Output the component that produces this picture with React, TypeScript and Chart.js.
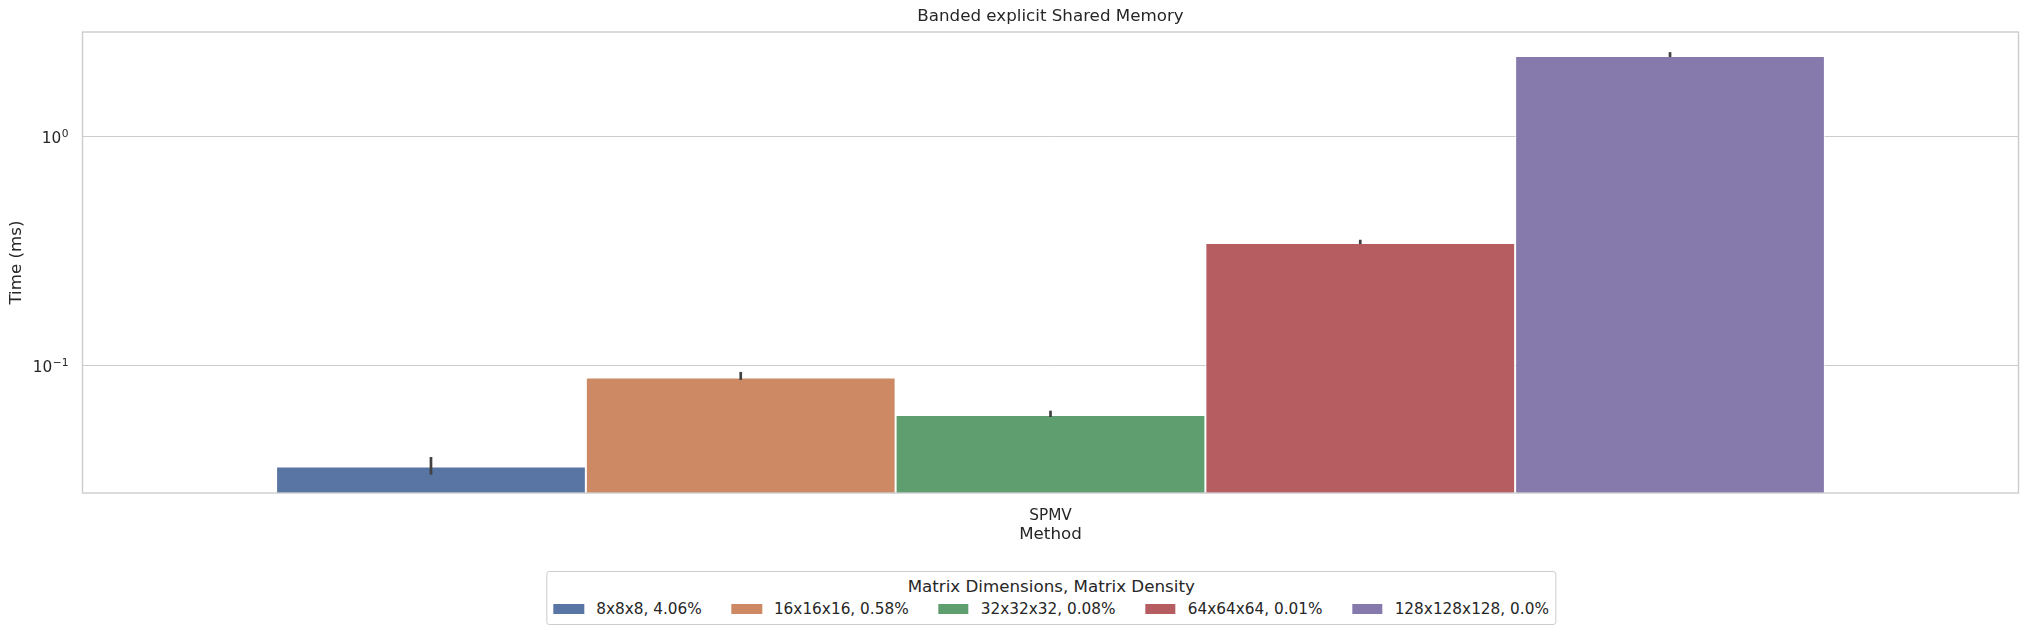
import React, { useEffect, useRef } from 'react';
import { Chart, registerables } from 'chart.js';

Chart.register(...registerables);

const chartTitle = 'Banded explicit Shared Memory';
const categories = ['SPMV'];
const seriesLabels = [
  '8x8x8, 4.06%',
  '16x16x16, 0.58%',
  '32x32x32, 0.08%',
  '64x64x64, 0.01%',
  '128x128x128, 0.0%',
];
const meanTimes = [0.0363, 0.0887, 0.0608, 0.342, 2.232];
const errLow = [0.0334, 0.0865, 0.0596, 0.338, 2.21];
const errHigh = [0.0399, 0.0937, 0.0635, 0.353, 2.32];
const seriesColors = ['#5975a4', '#cc8963', '#5f9e6e', '#b55d60', '#857aab'];
const yTickValues = [0.1, 1];
const yTickExponents = ['\u22121', '0'];
const yMin = 0.0278;
const yMax = 2.84;

const TEXT = '#262626';
const FONT = "'DejaVu Sans', sans-serif";

const overlayPlugin = {
  id: 'overlay',
  afterDatasetsDraw(chart: any) {
    const { ctx, chartArea: a } = chart;
    const y = chart.scales.y;
    ctx.save();
    ctx.strokeStyle = '#cccccc';
    ctx.lineWidth = 1.4;
    ctx.strokeRect(a.left, a.top, a.right - a.left, a.bottom - a.top);
    ctx.strokeStyle = '#424242';
    ctx.lineWidth = 2.7;
    ctx.lineCap = 'butt';
    chart.data.datasets.forEach((_ds: any, i: number) => {
      const meta = chart.getDatasetMeta(i);
      meta.data.forEach((bar: any) => {
        ctx.beginPath();
        ctx.moveTo(bar.x, y.getPixelForValue(errLow[i]));
        ctx.lineTo(bar.x, y.getPixelForValue(errHigh[i]));
        ctx.stroke();
      });
    });
    ctx.restore();
  },
  afterDraw(chart: any) {
    const { ctx, chartArea: a } = chart;
    const y = chart.scales.y;
    ctx.save();
    ctx.fillStyle = TEXT;
    // title centred over the plot area
    ctx.font = `16.7px ${FONT}`;
    ctx.textAlign = 'center';
    ctx.textBaseline = 'middle';
    ctx.fillText(chartTitle, (a.left + a.right) / 2, 17);
    // y tick labels in 10^n form
    const right = a.left - 14;
    yTickValues.forEach((v, i) => {
      const py = y.getPixelForValue(v);
      ctx.textBaseline = 'alphabetic';
      ctx.textAlign = 'right';
      ctx.font = `10.7px ${FONT}`;
      const supW = ctx.measureText(yTickExponents[i]).width;
      ctx.fillText(yTickExponents[i], right, py + 1);
      ctx.font = `15.3px ${FONT}`;
      ctx.fillText('10', right - supW - 0.5, py + 6.5);
    });
    ctx.restore();
  },
};

export default function App() {
  const canvasRef = useRef<HTMLCanvasElement | null>(null);

  useEffect(() => {
    if (!canvasRef.current) return;
    Chart.defaults.font.family = FONT;
    Chart.defaults.color = TEXT;
    const chart = new Chart(canvasRef.current, {
      type: 'bar',
      data: {
        labels: categories,
        datasets: seriesLabels.map((label, i) => ({
          label,
          data: [meanTimes[i]],
          backgroundColor: seriesColors[i],
          borderColor: 'rgba(255,255,255,0.75)',
          borderWidth: 1,
          categoryPercentage: 0.8,
          barPercentage: 1.0,
        })),
      },
      options: {
        responsive: false,
        animation: false,
        devicePixelRatio: 1,
        layout: { padding: { left: 0, right: 11.5, top: 32, bottom: 90 } },
        plugins: {
          legend: { display: false },
          tooltip: { enabled: false },
          title: { display: false },
        },
        scales: {
          x: {
            grid: { display: false },
            border: { display: false },
            ticks: { color: TEXT, font: { size: 15.3, family: FONT }, padding: 6 },
            title: {
              display: true,
              text: 'Method',
              color: TEXT,
              font: { size: 16.7, family: FONT },
              padding: { top: 0, bottom: 0 },
            },
            afterFit: (scale: any) => {
              scale.height = 52;
            },
          },
          y: {
            type: 'logarithmic',
            min: yMin,
            max: yMax,
            border: { display: false },
            grid: { color: '#cccccc', lineWidth: 1, drawTicks: false },
            ticks: {
              color: TEXT,
              font: { size: 15.3, family: FONT },
              padding: 14,
              callback: () => '',
            },
            afterBuildTicks: (scale: any) => {
              scale.ticks = yTickValues.map((value) => ({ value }));
            },
            title: {
              display: true,
              text: 'Time (ms)',
              color: TEXT,
              font: { size: 16.7, family: FONT },
              padding: { top: 7, bottom: 0 },
            },
            afterFit: (scale: any) => {
              scale.width = 82.5;
            },
          },
        },
      },
      plugins: [overlayPlugin],
    } as any);
    return () => chart.destroy();
  }, []);

  return (
    <div style={{ position: 'absolute', left: 0, top: 0, width: 2030, height: 635, background: '#fff' }}>
      <canvas ref={canvasRef} width={2030} height={635} style={{ width: 2030, height: 635, display: 'block' }} />
      <div
        style={{
          position: 'absolute',
          left: 1051.25,
          top: 571,
          transform: 'translateX(-50%)',
          border: '1px solid #cccccc',
          borderRadius: 3,
          background: '#fff',
          padding: '4px 6px 6px 6px',
          fontFamily: FONT,
          color: TEXT,
          whiteSpace: 'nowrap',
        }}
      >
        <div style={{ textAlign: 'center', fontSize: 16.7, lineHeight: '20px' }}>
          Matrix Dimensions, Matrix Density
        </div>
        <div style={{ display: 'flex', alignItems: 'center', marginTop: 4, fontSize: 15.3, lineHeight: '18px' }}>
          {seriesLabels.map((l, i) => (
            <div key={l} style={{ display: 'flex', alignItems: 'center', marginLeft: i ? 29.5 : 0 }}>
              <span
                style={{
                  display: 'inline-block',
                  width: 30.6,
                  height: 10.7,
                  background: seriesColors[i],
                  marginRight: 12,
                }}
              />
              <span>{l}</span>
            </div>
          ))}
        </div>
      </div>
    </div>
  );
}
